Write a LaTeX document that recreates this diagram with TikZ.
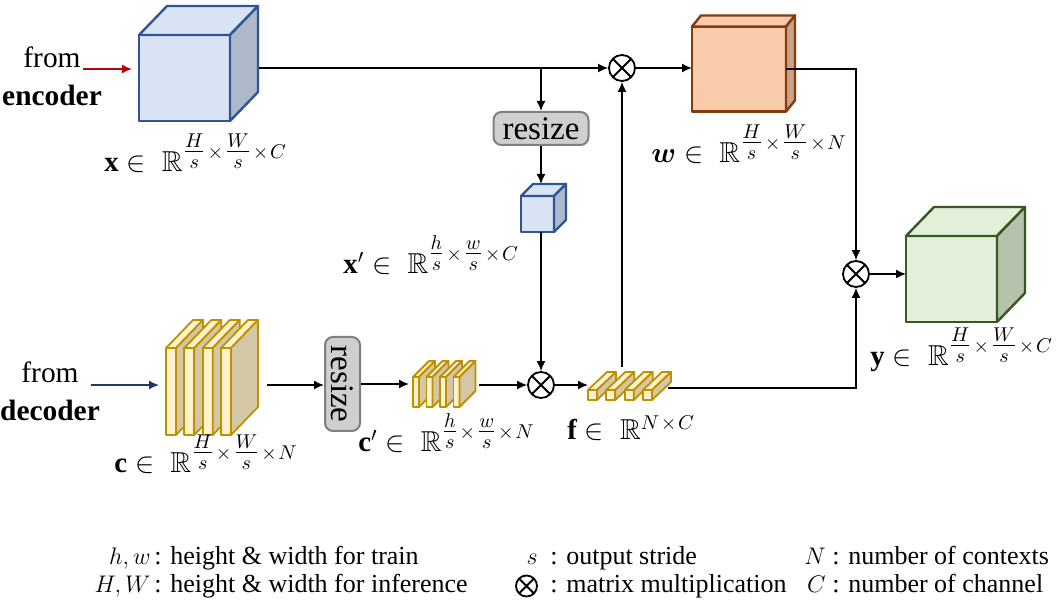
\documentclass[tikz,border=0pt]{standalone}
\usepackage{amsmath,amssymb}
\usepackage{graphicx}
\usepackage{fontspec}
\setmainfont{Liberation Serif}
\usetikzlibrary{arrows.meta,calc,positioning}

\definecolor{encred}{HTML}{C00000}
\definecolor{decblue}{HTML}{203864}
\definecolor{xfront}{HTML}{DAE3F3}
\definecolor{xside}{HTML}{ADB9CA}
\definecolor{xedge}{HTML}{2F5597}
\definecolor{wfront}{HTML}{F8CBAD}
\definecolor{wside}{HTML}{C9A28B}
\definecolor{wedge}{HTML}{843C0C}
\definecolor{yfront}{HTML}{E2F0D9}
\definecolor{yside}{HTML}{B5C3AC}
\definecolor{yedge}{HTML}{385723}
\definecolor{cfront}{HTML}{FFF2CC}
\definecolor{cside}{HTML}{D3C7A6}
\definecolor{cedge}{HTML}{BF9000}
\definecolor{rsfill}{HTML}{D0CECE}
\definecolor{rsedge}{HTML}{808080}

\pgfdeclarelayer{background}
\pgfsetlayers{background,main}

\newcommand{\fr}[2]{\genfrac{}{}{}{1}{#1}{#2}}
\newcommand{\tms}{\mskip1.5mu\times\mskip1.5mu}

% top and side of a box whose front is node #1
\newcommand{\boxfaces}[6]{%
  \filldraw[fill=#4,draw=#6,line width=1.2pt,line join=round] (#1.north west) -- ++(#2,#3) -- ($(#1.north east)+(#2,#3)$) -- (#1.north east) -- cycle;
  \filldraw[fill=#5,draw=#6,line width=1.2pt,line join=round] (#1.north east) -- ++(#2,#3) -- ($(#1.south east)+(#2,#3)$) -- (#1.south east) -- cycle;
}
% one slab of a stack: x, y, width, height, dx, dy
\newcommand{\slab}[6]{%
  \filldraw[slab,fill=cfront] (#1,#2) rectangle ++(#3,#4);
  \filldraw[slab,fill=cfront] (#1,#2) -- ++(#5,#6) -- ++(#3,0) -- (#1+#3,#2) -- cycle;
  \filldraw[slab,fill=cside] (#1+#3,#2) -- ++(#5,#6) -- ++(0,#4) -- (#1+#3,#2+#4) -- cycle;
}

\begin{document}
\begin{tikzpicture}[x=0.5pt,y=-0.5pt,
  line/.style={line width=0.75pt},
  arr/.style={line width=0.75pt,-{Latex[length=5pt,width=4.5pt]}},
  mul/.style={circle,draw,line width=0.9pt,fill=white,minimum size=13pt,inner sep=0pt,
    path picture={\draw[line width=0.9pt] (path picture bounding box.north west) -- (path picture bounding box.south east)
      (path picture bounding box.north east) -- (path picture bounding box.south west);}},
  cubefront/.style={draw,line width=1.2pt,inner sep=0pt,outer sep=0pt,line join=round},
  slab/.style={draw=cedge,line width=0.9pt,line join=round},
  stackarea/.style={inner sep=0pt,outer sep=0pt,minimum height=2pt},
  rsbox/.style={draw=rsedge,fill=rsfill,line width=1pt,rounded corners=4pt,inner sep=0pt,
    font=\fontsize{16.5}{18}\selectfont},
  srctext/.style={align=center,inner sep=0pt,font=\fontsize{14.7}{19}\selectfont},
  lab/.style={anchor=base west,inner sep=0pt,font=\fontsize{14.4}{17}\selectfont},
  leg/.style={inner sep=0pt,font=\rmfamily\fontsize{13}{15}\selectfont}]
\useasboundingbox (0,0) rectangle (1057,609);

% boxes
\node[cubefront,fill=xfront,draw=xedge,minimum width=45.5pt,minimum height=43pt] (xin) at (184.5,78) {};
\node[cubefront,fill=xfront,draw=xedge,minimum width=16.5pt,minimum height=18pt] (xsm) at (537.5,214) {};
\node[cubefront,fill=wfront,draw=wedge,minimum width=47pt,minimum height=42.5pt] (wout) at (739,69) {};
\node[cubefront,fill=yfront,draw=yedge,minimum width=45.5pt,minimum height=43pt] (yout) at (951.5,279) {};
\boxfaces{xin}{28}{-29}{xfront}{xside}{xedge}
\boxfaces{xsm}{12}{-12}{xfront}{xside}{xedge}
\boxfaces{wout}{9}{-11}{wfront}{wside}{wedge}
\boxfaces{yout}{28}{-29}{yfront}{yside}{yedge}

% stacks
\foreach \sx in {166,184.3,202.7,221}{\slab{\sx}{348}{10}{87}{27}{-28}}
\foreach \sx in {413,426.5,440,453.5}{\slab{\sx}{377}{6}{30}{16}{-16}}
\foreach \sx in {588,606.3,624.7,643}{\slab{\sx}{390}{9}{10}{19}{-18}}
\node[stackarea,minimum width=54pt] (cst) at (213,385) {};
\node[stackarea,minimum width=35pt] (cpst) at (444,385) {};
\node[stackarea,minimum width=40pt,minimum height=21pt] (fst) at (628,388) {};

% inputs
\node[srctext] (enc) at (52,76) {from\\\textbf{encoder}};
\node[srctext] (dec) at (50,391) {from\\\textbf{decoder}};
\coordinate (encarr) at (83,69);
\coordinate (decarr) at (91,385);

% resize and products
\node[rsbox,minimum width=47.5pt,minimum height=16.5pt] (rs1) at (541,128.5) {resize};
\node[rsbox,minimum width=17.5pt,minimum height=47pt] (rs2) at (342.5,384) {\rotatebox{-90}{resize}};
\node[mul] (m1) at (622,68) {};
\node[mul] (m2) at (541,385) {};
\node[mul] (m3) at (856,274) {};

% connectors
\draw[arr,encred,shorten >=3.5pt] (encarr) -- (encarr -| xin.west);
\draw[arr,decblue] (decarr) -- (decarr -| cst.west);
\begin{pgfonlayer}{background}
\draw[arr] (xin.east |- m1) -- (m1.west);
\end{pgfonlayer}
\draw[arr] (rs1.north |- m1) -- (rs1.north);
\coordinate (xsmtop) at ($(xsm.north)+(0,-12)$);
\draw[arr] (rs1.south) -- (rs1.south |- xsmtop);
\draw[arr] (rs1.south |- xsm.south) -- (m2.north);
\draw[arr] (m1.east) -- (m1.east -| wout.west);
\draw[arr] (wout.east) -| (m3.north);
\draw[arr] (fst.east) -| (m3.south);
\draw[arr] (m3.east) -- (m3.east -| yout.west);
\draw[arr] (fst.north -| m1) -- (m1.south);
\draw[arr] (m2.east) -- (m2.east -| fst.west);
\draw[arr] (cpst.east) -- (cpst.east -| m2.west);
\draw[arr] (rs2.east) -- (rs2.east -| cpst.west);
\draw[arr] (cst.east) -- (cst.east -| rs2.west);

% shapes of the tensors
\node[lab] (xlab) at (104,172) {$\mathbf{x}\in\;\mathbb{R}^{\fr{H}{s}\tms\fr{W}{s}\tms C}$};
\node[lab] (xslab) at (343,274) {$\mathbf{x}'\in\;\mathbb{R}^{\fr{h}{s}\tms\fr{w}{s}\tms C}$};
\node[lab] (wlab) at (651,163) {$\boldsymbol{w}\in\;\mathbb{R}^{\fr{H}{s}\tms\fr{W}{s}\tms N}$};
\node[lab] (ylab) at (870,366) {$\mathbf{y}\in\;\mathbb{R}^{\fr{H}{s}\tms\fr{W}{s}\tms C}$};
\node[lab] (clab) at (114,473) {$\mathbf{c}\in\;\mathbb{R}^{\fr{H}{s}\tms\fr{W}{s}\tms N}$};
\node[lab] (cplab) at (358,452) {$\mathbf{c}'\in\;\mathbb{R}^{\fr{h}{s}\tms\fr{w}{s}\tms N}$};
\node[lab] (flab) at (567,440) {$\mathbf{f}\in\;\mathbb{R}^{N\tms C}$};

% legend
\node[leg,anchor=base east] (khw) at (151,565) {$h,w$};
\node[leg,anchor=base west] (dhw) at (154,565) {: height \& width for train};
\node[leg,anchor=base east] (kHW) at (151,593) {$H,W$};
\node[leg,anchor=base west] (dHW) at (154,593) {: height \& width for inference};
\node[leg,anchor=base east] (ks) at (538,565) {$s$};
\node[leg,anchor=base west] (ds) at (550,565) {: output stride};
\node[mul,minimum size=10.5pt] (kmul) at (526.5,586) {};
\node[leg,anchor=base west] (dmul) at (550,593) {: matrix multiplication};
\node[leg,anchor=base east] (kN) at (826,565) {$N$};
\node[leg,anchor=base west] (dN) at (832,565) {: number of contexts};
\node[leg,anchor=base east] (kC) at (826,593) {$C$};
\node[leg,anchor=base west] (dC) at (832,593) {: number of channel};
\end{tikzpicture}
\end{document}
